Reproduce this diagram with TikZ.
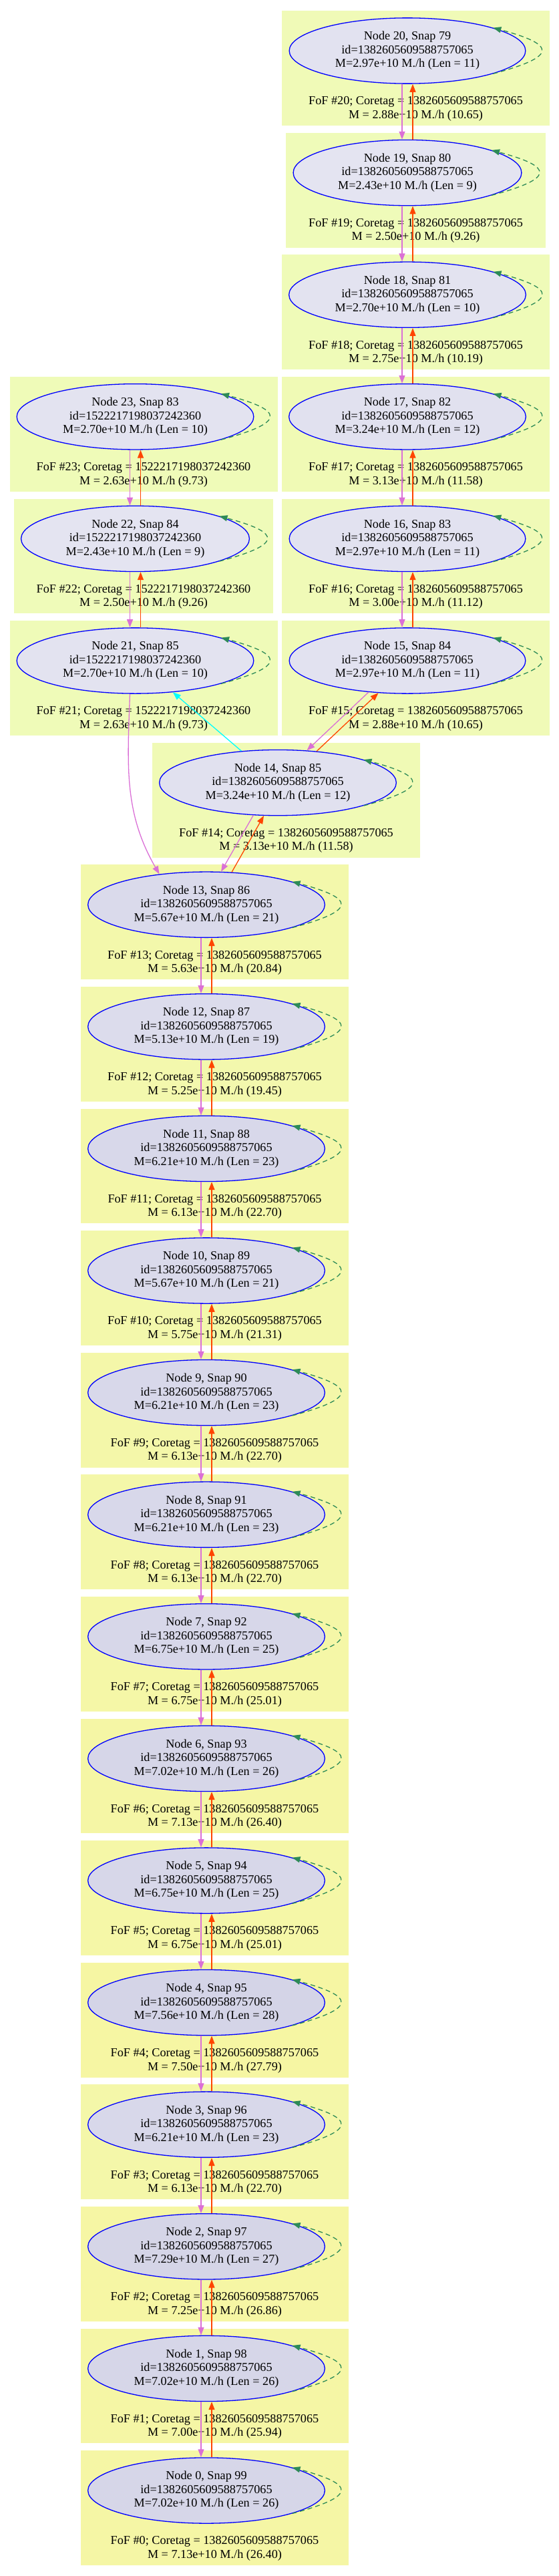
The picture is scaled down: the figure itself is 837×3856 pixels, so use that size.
\documentclass[tikz,border=0pt]{standalone}
\usepackage{fontspec}
\setmainfont{Liberation Serif}
\usetikzlibrary{arrows.meta,calc,backgrounds,shapes.geometric}

\definecolor{haloLo}{HTML}{E4E4F1}
\definecolor{haloHi}{HTML}{D4D4E7}
\definecolor{fofLo}{HTML}{EFFBB9}
\definecolor{fofHi}{HTML}{F6F6A3}
\definecolor{seagreen}{HTML}{2E8B57}
\definecolor{orchid}{HTML}{DA70D6}
\definecolor{orangered}{HTML}{FF4500}
\definecolor{aqua}{HTML}{00FFFF}

\tikzset{
  every node/.style={font=\fontsize{18.2}{20.5}\selectfont},
  halo/.style={ellipse, draw=blue, line width=1.3pt, fill=haloHi!#1!haloLo,
    align=center, inner xsep=17pt, inner ysep=6pt},
  foflabel/.style={align=center, inner sep=0pt},
  fofbox/.style={fill=fofHi!#1!fofLo},
  desc/.style={orchid, line width=1.3pt, -{Triangle[length=12pt,width=9pt]}},
  prog/.style={orangered, line width=1.3pt, -{Triangle[length=12pt,width=9pt]}},
  merge/.style={aqua, line width=1.3pt, -{Triangle[length=12pt,width=9pt]}},
  selfloop/.style={seagreen, line width=1.3pt, dash pattern=on 7pt off 5pt,
    -{Triangle[length=12pt,width=9pt]}},
}

\begin{document}
\begin{tikzpicture}[x=1pt,y=1pt]
  \useasboundingbox (0,0) rectangle (837,-3856);

  % main branch, right column
  \node[halo=11] (n20) at (610,-76) {Node 20, Snap 79\\id=1382605609588757065\\M=2.97e+10 M./h (Len = 11)};
  \node[foflabel] (f20) at ($(n20)+(12.5,-87)$) {FoF \#20; Coretag = 1382605609588757065\\M = 2.88e+10 M./h (10.65)};
  \node[halo=1] (n19) at (610,-258.6) {Node 19, Snap 80\\id=1382605609588757065\\M=2.43e+10 M./h (Len = 9)};
  \node[foflabel] (f19) at ($(n19)+(12.5,-87)$) {FoF \#19; Coretag = 1382605609588757065\\M = 2.50e+10 M./h (9.26)};
  \node[halo=6] (n18) at (610,-441.2) {Node 18, Snap 81\\id=1382605609588757065\\M=2.70e+10 M./h (Len = 10)};
  \node[foflabel] (f18) at ($(n18)+(12.5,-87)$) {FoF \#18; Coretag = 1382605609588757065\\M = 2.75e+10 M./h (10.19)};
  \node[halo=16] (n17) at (610,-623.8) {Node 17, Snap 82\\id=1382605609588757065\\M=3.24e+10 M./h (Len = 12)};
  \node[foflabel] (f17) at ($(n17)+(12.5,-87)$) {FoF \#17; Coretag = 1382605609588757065\\M = 3.13e+10 M./h (11.58)};
  \node[halo=11] (n16) at (610,-806.4) {Node 16, Snap 83\\id=1382605609588757065\\M=2.97e+10 M./h (Len = 11)};
  \node[foflabel] (f16) at ($(n16)+(12.5,-87)$) {FoF \#16; Coretag = 1382605609588757065\\M = 3.00e+10 M./h (11.12)};
  \node[halo=11] (n15) at (610,-989) {Node 15, Snap 84\\id=1382605609588757065\\M=2.97e+10 M./h (Len = 11)};
  \node[foflabel] (f15) at ($(n15)+(12.5,-87)$) {FoF \#15; Coretag = 1382605609588757065\\M = 2.88e+10 M./h (10.65)};

  % merging branch, left column
  \node[halo=6] (n23) at (202.5,-623.8) {Node 23, Snap 83\\id=1522217198037242360\\M=2.70e+10 M./h (Len = 10)};
  \node[foflabel] (f23) at ($(n23)+(12.5,-87)$) {FoF \#23; Coretag = 1522217198037242360\\M = 2.63e+10 M./h (9.73)};
  \node[halo=1] (n22) at (202.5,-806.4) {Node 22, Snap 84\\id=1522217198037242360\\M=2.43e+10 M./h (Len = 9)};
  \node[foflabel] (f22) at ($(n22)+(12.5,-87)$) {FoF \#22; Coretag = 1522217198037242360\\M = 2.50e+10 M./h (9.26)};
  \node[halo=6] (n21) at (202.5,-989) {Node 21, Snap 85\\id=1522217198037242360\\M=2.70e+10 M./h (Len = 10)};
  \node[foflabel] (f21) at ($(n21)+(12.5,-87)$) {FoF \#21; Coretag = 1522217198037242360\\M = 2.63e+10 M./h (9.73)};

  \node[halo=16] (n14) at (416,-1171.6) {Node 14, Snap 85\\id=1382605609588757065\\M=3.24e+10 M./h (Len = 12)};
  \node[foflabel] (f14) at ($(n14)+(12.5,-87)$) {FoF \#14; Coretag = 1382605609588757065\\M = 3.13e+10 M./h (11.58)};

  % after the merger
  \node[halo=63] (n13) at (309,-1354.2) {Node 13, Snap 86\\id=1382605609588757065\\M=5.67e+10 M./h (Len = 21)};
  \node[foflabel] (f13) at ($(n13)+(12.5,-87)$) {FoF \#13; Coretag = 1382605609588757065\\M = 5.63e+10 M./h (20.84)};
  \node[halo=53] (n12) at (309,-1536.8) {Node 12, Snap 87\\id=1382605609588757065\\M=5.13e+10 M./h (Len = 19)};
  \node[foflabel] (f12) at ($(n12)+(12.5,-87)$) {FoF \#12; Coretag = 1382605609588757065\\M = 5.25e+10 M./h (19.45)};
  \node[halo=74] (n11) at (309,-1719.4) {Node 11, Snap 88\\id=1382605609588757065\\M=6.21e+10 M./h (Len = 23)};
  \node[foflabel] (f11) at ($(n11)+(12.5,-87)$) {FoF \#11; Coretag = 1382605609588757065\\M = 6.13e+10 M./h (22.70)};
  \node[halo=63] (n10) at (309,-1902) {Node 10, Snap 89\\id=1382605609588757065\\M=5.67e+10 M./h (Len = 21)};
  \node[foflabel] (f10) at ($(n10)+(12.5,-87)$) {FoF \#10; Coretag = 1382605609588757065\\M = 5.75e+10 M./h (21.31)};
  \node[halo=74] (n9) at (309,-2084.6) {Node 9, Snap 90\\id=1382605609588757065\\M=6.21e+10 M./h (Len = 23)};
  \node[foflabel] (f9) at ($(n9)+(12.5,-87)$) {FoF \#9; Coretag = 1382605609588757065\\M = 6.13e+10 M./h (22.70)};
  \node[halo=74] (n8) at (309,-2267.2) {Node 8, Snap 91\\id=1382605609588757065\\M=6.21e+10 M./h (Len = 23)};
  \node[foflabel] (f8) at ($(n8)+(12.5,-87)$) {FoF \#8; Coretag = 1382605609588757065\\M = 6.13e+10 M./h (22.70)};
  \node[halo=84] (n7) at (309,-2449.8) {Node 7, Snap 92\\id=1382605609588757065\\M=6.75e+10 M./h (Len = 25)};
  \node[foflabel] (f7) at ($(n7)+(12.5,-87)$) {FoF \#7; Coretag = 1382605609588757065\\M = 6.75e+10 M./h (25.01)};
  \node[halo=90] (n6) at (309,-2632.4) {Node 6, Snap 93\\id=1382605609588757065\\M=7.02e+10 M./h (Len = 26)};
  \node[foflabel] (f6) at ($(n6)+(12.5,-87)$) {FoF \#6; Coretag = 1382605609588757065\\M = 7.13e+10 M./h (26.40)};
  \node[halo=84] (n5) at (309,-2815) {Node 5, Snap 94\\id=1382605609588757065\\M=6.75e+10 M./h (Len = 25)};
  \node[foflabel] (f5) at ($(n5)+(12.5,-87)$) {FoF \#5; Coretag = 1382605609588757065\\M = 6.75e+10 M./h (25.01)};
  \node[halo=100] (n4) at (309,-2997.6) {Node 4, Snap 95\\id=1382605609588757065\\M=7.56e+10 M./h (Len = 28)};
  \node[foflabel] (f4) at ($(n4)+(12.5,-87)$) {FoF \#4; Coretag = 1382605609588757065\\M = 7.50e+10 M./h (27.79)};
  \node[halo=74] (n3) at (309,-3180.2) {Node 3, Snap 96\\id=1382605609588757065\\M=6.21e+10 M./h (Len = 23)};
  \node[foflabel] (f3) at ($(n3)+(12.5,-87)$) {FoF \#3; Coretag = 1382605609588757065\\M = 6.13e+10 M./h (22.70)};
  \node[halo=95] (n2) at (309,-3362.8) {Node 2, Snap 97\\id=1382605609588757065\\M=7.29e+10 M./h (Len = 27)};
  \node[foflabel] (f2) at ($(n2)+(12.5,-87)$) {FoF \#2; Coretag = 1382605609588757065\\M = 7.25e+10 M./h (26.86)};
  \node[halo=90] (n1) at (309,-3545.4) {Node 1, Snap 98\\id=1382605609588757065\\M=7.02e+10 M./h (Len = 26)};
  \node[foflabel] (f1) at ($(n1)+(12.5,-87)$) {FoF \#1; Coretag = 1382605609588757065\\M = 7.00e+10 M./h (25.94)};
  \node[halo=90] (n0) at (309,-3728) {Node 0, Snap 99\\id=1382605609588757065\\M=7.02e+10 M./h (Len = 26)};
  \node[foflabel] (f0) at ($(n0)+(12.5,-87)$) {FoF \#0; Coretag = 1382605609588757065\\M = 7.13e+10 M./h (26.40)};

  % FoF groups
  \begin{scope}[on background layer]
    \fill[fofbox=11] ($(n20.west |- n20.north)+(-10,10)$) rectangle ($(n20.east)+(35,-112)$);
    \fill[fofbox=1] ($(n19.west |- n19.north)+(-10,10)$) rectangle ($(n19.east)+(35,-112)$);
    \fill[fofbox=6] ($(n18.west |- n18.north)+(-10,10)$) rectangle ($(n18.east)+(35,-112)$);
    \fill[fofbox=16] ($(n17.west |- n17.north)+(-10,10)$) rectangle ($(n17.east)+(35,-112)$);
    \fill[fofbox=11] ($(n16.west |- n16.north)+(-10,10)$) rectangle ($(n16.east)+(35,-112)$);
    \fill[fofbox=11] ($(n15.west |- n15.north)+(-10,10)$) rectangle ($(n15.east)+(35,-112)$);
    \fill[fofbox=6] ($(n23.west |- n23.north)+(-10,10)$) rectangle ($(n23.east)+(35,-112)$);
    \fill[fofbox=1] ($(n22.west |- n22.north)+(-10,10)$) rectangle ($(n22.east)+(35,-112)$);
    \fill[fofbox=6] ($(n21.west |- n21.north)+(-10,10)$) rectangle ($(n21.east)+(35,-112)$);
    \fill[fofbox=16] ($(n14.west |- n14.north)+(-10,10)$) rectangle ($(n14.east)+(35,-112)$);
    \fill[fofbox=63] ($(n13.west |- n13.north)+(-10,10)$) rectangle ($(n13.east)+(35,-112)$);
    \fill[fofbox=53] ($(n12.west |- n12.north)+(-10,10)$) rectangle ($(n12.east)+(35,-112)$);
    \fill[fofbox=74] ($(n11.west |- n11.north)+(-10,10)$) rectangle ($(n11.east)+(35,-112)$);
    \fill[fofbox=63] ($(n10.west |- n10.north)+(-10,10)$) rectangle ($(n10.east)+(35,-112)$);
    \fill[fofbox=74] ($(n9.west |- n9.north)+(-10,10)$) rectangle ($(n9.east)+(35,-112)$);
    \fill[fofbox=74] ($(n8.west |- n8.north)+(-10,10)$) rectangle ($(n8.east)+(35,-112)$);
    \fill[fofbox=84] ($(n7.west |- n7.north)+(-10,10)$) rectangle ($(n7.east)+(35,-112)$);
    \fill[fofbox=90] ($(n6.west |- n6.north)+(-10,10)$) rectangle ($(n6.east)+(35,-112)$);
    \fill[fofbox=84] ($(n5.west |- n5.north)+(-10,10)$) rectangle ($(n5.east)+(35,-112)$);
    \fill[fofbox=100] ($(n4.west |- n4.north)+(-10,10)$) rectangle ($(n4.east)+(35,-112)$);
    \fill[fofbox=74] ($(n3.west |- n3.north)+(-10,10)$) rectangle ($(n3.east)+(35,-112)$);
    \fill[fofbox=95] ($(n2.west |- n2.north)+(-10,10)$) rectangle ($(n2.east)+(35,-112)$);
    \fill[fofbox=90] ($(n1.west |- n1.north)+(-10,10)$) rectangle ($(n1.east)+(35,-112)$);
    \fill[fofbox=90] ($(n0.west |- n0.north)+(-10,10)$) rectangle ($(n0.east)+(35,-112)$);
  \end{scope}

  % descendants (down) and progenitors (up)
  \draw[desc] ([xshift=-8pt]n20.south) -- ([xshift=-8pt]n19.north);
  \draw[prog] ([xshift=8pt]n19.north) -- ([xshift=8pt]n20.south);
  \draw[desc] ([xshift=-8pt]n19.south) -- ([xshift=-8pt]n18.north);
  \draw[prog] ([xshift=8pt]n18.north) -- ([xshift=8pt]n19.south);
  \draw[desc] ([xshift=-8pt]n18.south) -- ([xshift=-8pt]n17.north);
  \draw[prog] ([xshift=8pt]n17.north) -- ([xshift=8pt]n18.south);
  \draw[desc] ([xshift=-8pt]n17.south) -- ([xshift=-8pt]n16.north);
  \draw[prog] ([xshift=8pt]n16.north) -- ([xshift=8pt]n17.south);
  \draw[desc] ([xshift=-8pt]n16.south) -- ([xshift=-8pt]n15.north);
  \draw[prog] ([xshift=8pt]n15.north) -- ([xshift=8pt]n16.south);
  \draw[desc] ([xshift=-8pt]n23.south) -- ([xshift=-8pt]n22.north);
  \draw[prog] ([xshift=8pt]n22.north) -- ([xshift=8pt]n23.south);
  \draw[desc] ([xshift=-8pt]n22.south) -- ([xshift=-8pt]n21.north);
  \draw[prog] ([xshift=8pt]n21.north) -- ([xshift=8pt]n22.south);
  \draw[desc] (n15.219.6) -- (n14.48);
  \draw[prog] (n14.39.7) -- (n15.228);
  \draw[desc] (n14.233.5) -- (n13.66);
  \draw[prog] (n13.52.4) -- (n14.247);
  \draw[desc] ([xshift=-8pt]n21.south) to[out=-92,in=120] (n13.147);
  \draw[merge] (n14.139) -- (n21.-40.8);
  \draw[desc] ([xshift=-8pt]n13.south) -- ([xshift=-8pt]n12.north);
  \draw[prog] ([xshift=8pt]n12.north) -- ([xshift=8pt]n13.south);
  \draw[desc] ([xshift=-8pt]n12.south) -- ([xshift=-8pt]n11.north);
  \draw[prog] ([xshift=8pt]n11.north) -- ([xshift=8pt]n12.south);
  \draw[desc] ([xshift=-8pt]n11.south) -- ([xshift=-8pt]n10.north);
  \draw[prog] ([xshift=8pt]n10.north) -- ([xshift=8pt]n11.south);
  \draw[desc] ([xshift=-8pt]n10.south) -- ([xshift=-8pt]n9.north);
  \draw[prog] ([xshift=8pt]n9.north) -- ([xshift=8pt]n10.south);
  \draw[desc] ([xshift=-8pt]n9.south) -- ([xshift=-8pt]n8.north);
  \draw[prog] ([xshift=8pt]n8.north) -- ([xshift=8pt]n9.south);
  \draw[desc] ([xshift=-8pt]n8.south) -- ([xshift=-8pt]n7.north);
  \draw[prog] ([xshift=8pt]n7.north) -- ([xshift=8pt]n8.south);
  \draw[desc] ([xshift=-8pt]n7.south) -- ([xshift=-8pt]n6.north);
  \draw[prog] ([xshift=8pt]n6.north) -- ([xshift=8pt]n7.south);
  \draw[desc] ([xshift=-8pt]n6.south) -- ([xshift=-8pt]n5.north);
  \draw[prog] ([xshift=8pt]n5.north) -- ([xshift=8pt]n6.south);
  \draw[desc] ([xshift=-8pt]n5.south) -- ([xshift=-8pt]n4.north);
  \draw[prog] ([xshift=8pt]n4.north) -- ([xshift=8pt]n5.south);
  \draw[desc] ([xshift=-8pt]n4.south) -- ([xshift=-8pt]n3.north);
  \draw[prog] ([xshift=8pt]n3.north) -- ([xshift=8pt]n4.south);
  \draw[desc] ([xshift=-8pt]n3.south) -- ([xshift=-8pt]n2.north);
  \draw[prog] ([xshift=8pt]n2.north) -- ([xshift=8pt]n3.south);
  \draw[desc] ([xshift=-8pt]n2.south) -- ([xshift=-8pt]n1.north);
  \draw[prog] ([xshift=8pt]n1.north) -- ([xshift=8pt]n2.south);
  \draw[desc] ([xshift=-8pt]n1.south) -- ([xshift=-8pt]n0.north);
  \draw[prog] ([xshift=8pt]n0.north) -- ([xshift=8pt]n1.south);

  % self loops
  \draw[selfloop] (n20.-15) to[out=15,in=-15,looseness=3.7] (n20.15);
  \draw[selfloop] (n19.-15) to[out=15,in=-15,looseness=3.7] (n19.15);
  \draw[selfloop] (n18.-15) to[out=15,in=-15,looseness=3.7] (n18.15);
  \draw[selfloop] (n17.-15) to[out=15,in=-15,looseness=3.7] (n17.15);
  \draw[selfloop] (n16.-15) to[out=15,in=-15,looseness=3.7] (n16.15);
  \draw[selfloop] (n15.-15) to[out=15,in=-15,looseness=3.7] (n15.15);
  \draw[selfloop] (n23.-15) to[out=15,in=-15,looseness=3.7] (n23.15);
  \draw[selfloop] (n22.-15) to[out=15,in=-15,looseness=3.7] (n22.15);
  \draw[selfloop] (n21.-15) to[out=15,in=-15,looseness=3.7] (n21.15);
  \draw[selfloop] (n14.-15) to[out=15,in=-15,looseness=3.7] (n14.15);
  \draw[selfloop] (n13.-15) to[out=15,in=-15,looseness=3.7] (n13.15);
  \draw[selfloop] (n12.-15) to[out=15,in=-15,looseness=3.7] (n12.15);
  \draw[selfloop] (n11.-15) to[out=15,in=-15,looseness=3.7] (n11.15);
  \draw[selfloop] (n10.-15) to[out=15,in=-15,looseness=3.7] (n10.15);
  \draw[selfloop] (n9.-15) to[out=15,in=-15,looseness=3.7] (n9.15);
  \draw[selfloop] (n8.-15) to[out=15,in=-15,looseness=3.7] (n8.15);
  \draw[selfloop] (n7.-15) to[out=15,in=-15,looseness=3.7] (n7.15);
  \draw[selfloop] (n6.-15) to[out=15,in=-15,looseness=3.7] (n6.15);
  \draw[selfloop] (n5.-15) to[out=15,in=-15,looseness=3.7] (n5.15);
  \draw[selfloop] (n4.-15) to[out=15,in=-15,looseness=3.7] (n4.15);
  \draw[selfloop] (n3.-15) to[out=15,in=-15,looseness=3.7] (n3.15);
  \draw[selfloop] (n2.-15) to[out=15,in=-15,looseness=3.7] (n2.15);
  \draw[selfloop] (n1.-15) to[out=15,in=-15,looseness=3.7] (n1.15);
  \draw[selfloop] (n0.-15) to[out=15,in=-15,looseness=3.7] (n0.15);
\end{tikzpicture}
\end{document}
